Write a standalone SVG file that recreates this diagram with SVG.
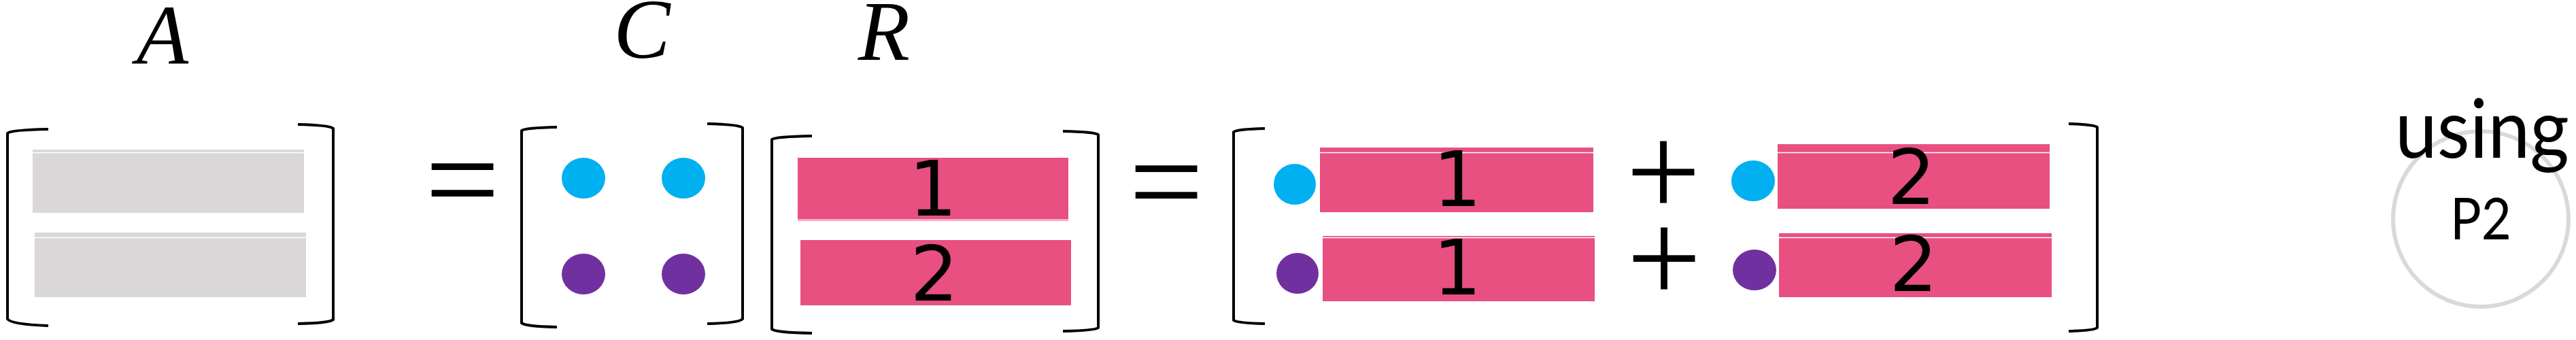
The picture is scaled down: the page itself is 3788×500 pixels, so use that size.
<svg xmlns="http://www.w3.org/2000/svg" width="3788" height="500" viewBox="0 0 3788 500">
<style>
.br{fill:none;stroke:#000;stroke-width:4;stroke-linejoin:round}
.gray{fill:#D9D7D8}
.pink{fill:#E75080}
.wl{stroke:#fff;stroke-width:1.5}
.cy{fill:#00B0F0}
.pu{fill:#7030A0}
.lbl{font-family:"Liberation Serif",serif;font-style:italic;font-size:125px;fill:#000;text-anchor:middle}
.op{font-family:"Liberation Serif",serif;font-size:195px;fill:#000;text-anchor:middle}
.dg{font-family:"DejaVu Sans",sans-serif;font-size:112px;fill:#000;text-anchor:middle}
.cal{font-family:Lato,"Liberation Sans",sans-serif;fill:#000}
</style>
<rect width="3788" height="500" fill="#fff"/>

<g id="matrixA">
<text class="lbl" x="239" y="94">A</text>
<path class="br" d="M71,190 Q16,191 11,196 V469 Q16,477 71,479"/>
<path class="br" d="M438,183 Q485,184 490,189 V470 Q485,475 438,476"/>
<rect class="gray" x="48" y="220" width="399" height="93"/>
<line class="wl" x1="48" y1="224.5" x2="447" y2="224.5"/>
<rect class="gray" x="51" y="342" width="399" height="95"/>
<line class="wl" x1="51" y1="349.5" x2="450" y2="349.5"/>
</g>

<g id="eq1"><text class="op" x="680" y="329">=</text></g>

<g id="matrixC">
<text class="lbl" x="944" y="85">C</text>
<path class="br" d="M819,187 Q772,188 767,192 V475 Q772,480 819,481"/>
<path class="br" d="M1040,182 Q1087,183 1092,188 V469 Q1087,475 1040,476"/>
<ellipse class="cy" cx="858" cy="262" rx="32" ry="30"/>
<ellipse class="cy" cx="1005" cy="262" rx="32" ry="30"/>
<ellipse class="pu" cx="858" cy="403" rx="32" ry="30"/>
<ellipse class="pu" cx="1005" cy="403" rx="32" ry="30"/>
</g>

<g id="matrixR">
<text class="lbl" x="1300" y="88">R</text>
<path class="br" d="M1194,200 Q1140,201 1135,205 V484 Q1140,489 1194,490"/>
<path class="br" d="M1563,193 Q1610,194 1615,198 V482 Q1610,486 1563,487"/>
<rect class="pink" x="1173" y="232" width="398" height="93"/>
<line class="wl" x1="1173" y1="323.5" x2="1571" y2="323.5"/>
<text class="dg" x="1372" y="317">1</text>
<rect class="pink" x="1177" y="353" width="398" height="96"/>
<text class="dg" x="1374" y="442">2</text>
</g>

<g id="eq2"><text class="op" x="1715" y="332">=</text></g>

<g id="result">
<path class="br" d="M1860,189 Q1819,190 1814,194 V471 Q1819,475 1860,476"/>
<path class="br" d="M3042,182 Q3079,183 3084,187 V482 Q3079,486 3042,487"/>
<ellipse class="cy" cx="1904" cy="271" rx="31" ry="30"/>
<ellipse class="pu" cx="1908" cy="402" rx="31" ry="30"/>
<rect class="pink" x="1941" y="217" width="402" height="95"/>
<line class="wl" x1="1941" y1="224.5" x2="2343" y2="224.5"/>
<text class="dg" x="2143" y="303">1</text>
<rect class="pink" x="1945" y="347" width="400" height="96"/>
<line class="wl" x1="1945" y1="349.5" x2="2345" y2="349.5"/>
<text class="dg" x="2143" y="433">1</text>
<text class="op" x="2446" y="318">+</text>
<text class="op" x="2447" y="445">+</text>
<ellipse class="cy" cx="2578" cy="266" rx="32" ry="30"/>
<ellipse class="pu" cx="2580" cy="397" rx="32" ry="30"/>
<rect class="pink" x="2614" y="212" width="400" height="95"/>
<line class="wl" x1="2614" y1="224.5" x2="3014" y2="224.5"/>
<text class="dg" x="2811" y="300">2</text>
<rect class="pink" x="2616" y="343" width="401" height="94"/>
<line class="wl" x1="2616" y1="349.5" x2="3017" y2="349.5"/>
<text class="dg" x="2814" y="428">2</text>
</g>

<g id="usingP2">
<circle cx="3648" cy="322" r="129" fill="none" stroke="#D9D9D9" stroke-width="6"/>
<text class="cal" x="3522" y="232" font-size="120" textLength="256" lengthAdjust="spacingAndGlyphs">using</text>
<text class="cal" x="3603" y="352" font-size="86" textLength="90" lengthAdjust="spacingAndGlyphs">P2</text>
</g>
</svg>
